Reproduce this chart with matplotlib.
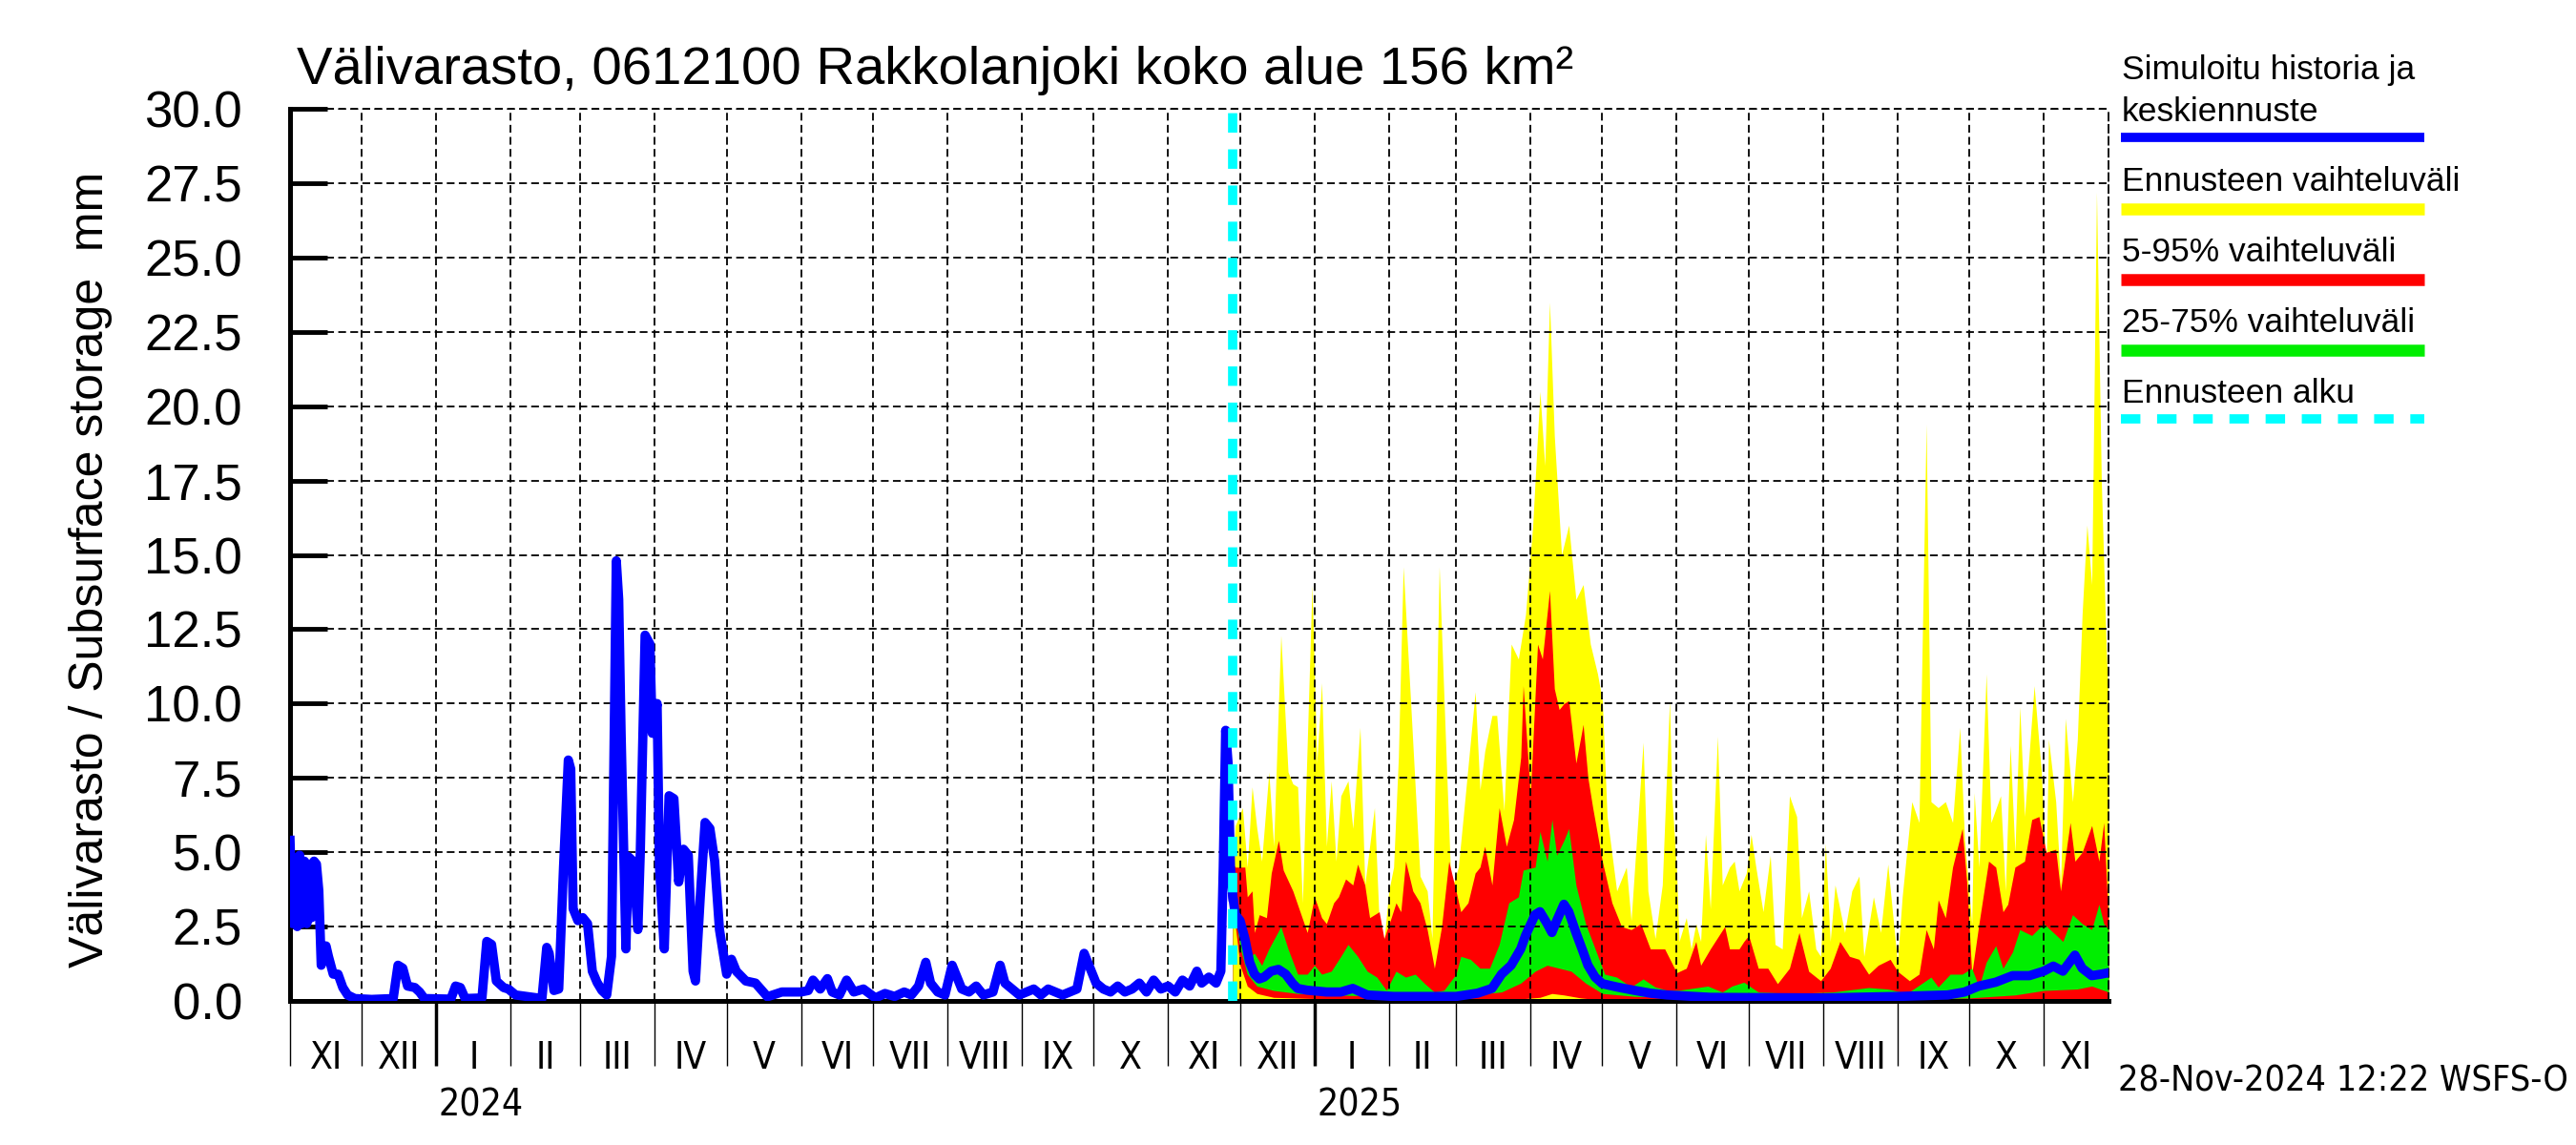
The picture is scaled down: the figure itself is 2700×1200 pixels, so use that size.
import matplotlib
matplotlib.use("Agg")
import matplotlib.pyplot as plt
import matplotlib.dates as mdates
from matplotlib import font_manager as fm
from matplotlib.lines import Line2D
from matplotlib.transforms import blended_transform_factory
import pandas as pd

plt.rcParams['font.family'] = ['Liberation Sans', 'DejaVu Sans']

# simulated history (blue)
hist_dates = ["2023-11-01", "2023-11-02", "2023-11-03", "2023-11-04", "2023-11-05", "2023-11-06",
              "2023-11-07", "2023-11-08", "2023-11-09", "2023-11-10", "2023-11-11", "2023-11-12",
              "2023-11-13", "2023-11-14", "2023-11-16", "2023-11-17", "2023-11-19", "2023-11-21",
              "2023-11-23", "2023-11-25", "2023-11-28", "2023-12-05", "2023-12-14", "2023-12-16",
              "2023-12-18", "2023-12-20", "2023-12-23", "2023-12-25", "2023-12-27", "2024-01-07",
              "2024-01-09", "2024-01-11", "2024-01-13", "2024-01-20", "2024-01-22", "2024-01-24",
              "2024-01-26", "2024-01-29", "2024-01-31", "2024-02-03", "2024-02-14", "2024-02-16",
              "2024-02-17", "2024-02-19", "2024-02-21", "2024-02-23", "2024-02-25", "2024-02-26",
              "2024-02-27", "2024-02-29", "2024-03-02", "2024-03-04", "2024-03-06", "2024-03-08",
              "2024-03-10", "2024-03-12", "2024-03-14", "2024-03-16", "2024-03-17", "2024-03-18",
              "2024-03-20", "2024-03-21", "2024-03-23", "2024-03-25", "2024-03-26", "2024-03-28",
              "2024-03-30", "2024-03-31", "2024-04-02", "2024-04-03", "2024-04-05", "2024-04-07",
              "2024-04-09", "2024-04-11", "2024-04-13", "2024-04-15", "2024-04-17", "2024-04-18",
              "2024-04-20", "2024-04-22", "2024-04-24", "2024-04-26", "2024-04-28", "2024-05-01",
              "2024-05-03", "2024-05-05", "2024-05-09", "2024-05-13", "2024-05-18", "2024-05-24",
              "2024-06-01", "2024-06-04", "2024-06-06", "2024-06-09", "2024-06-12", "2024-06-14",
              "2024-06-17", "2024-06-20", "2024-06-23", "2024-06-27", "2024-07-02", "2024-07-06",
              "2024-07-10", "2024-07-14", "2024-07-17", "2024-07-20", "2024-07-23", "2024-07-25",
              "2024-07-28", "2024-07-31", "2024-08-03", "2024-08-05", "2024-08-07", "2024-08-10",
              "2024-08-13", "2024-08-16", "2024-08-20", "2024-08-23", "2024-08-25", "2024-08-28",
              "2024-08-31", "2024-09-03", "2024-09-06", "2024-09-09", "2024-09-12", "2024-09-15",
              "2024-09-18", "2024-09-21", "2024-09-24", "2024-09-27", "2024-09-29", "2024-10-02",
              "2024-10-05", "2024-10-08", "2024-10-11", "2024-10-14", "2024-10-17", "2024-10-20",
              "2024-10-23", "2024-10-26", "2024-10-29", "2024-11-01", "2024-11-04", "2024-11-07",
              "2024-11-10", "2024-11-13", "2024-11-15", "2024-11-18", "2024-11-21", "2024-11-23",
              "2024-11-24", "2024-11-25", "2024-11-26", "2024-11-27", "2024-11-28"]
hist_vals = [5.4, 2.6, 4.8, 2.5, 4.9, 2.6,
             4.7, 2.6, 4.6, 2.8, 4.7, 4.6,
             3.7, 1.2, 1.85, 1.5, 0.9, 0.9,
             0.45, 0.2, 0.08, 0.05, 0.08, 1.2,
             1.1, 0.5, 0.45, 0.3, 0.08, 0.06,
             0.5, 0.45, 0.08, 0.1, 2.0, 1.9,
             0.67, 0.45, 0.4, 0.2, 0.08, 1.8,
             1.6, 0.35, 0.4, 4.5, 8.1, 7.8,
             3.1, 2.7, 2.8, 2.6, 1.0, 0.62,
             0.35, 0.2, 1.5, 14.8, 13.5, 9.0,
             1.75, 4.85, 4.7, 2.4, 5.0, 12.3,
             12.0, 9.0, 10.0, 4.5, 1.75, 6.9,
             6.8, 4.0, 5.1, 4.9, 1.0, 0.67,
             3.5, 6.0, 5.8, 4.7, 2.4, 0.9,
             1.4, 1.0, 0.67, 0.6, 0.14, 0.3,
             0.3, 0.35, 0.7, 0.4, 0.75, 0.3,
             0.2, 0.7, 0.3, 0.4, 0.1, 0.25,
             0.15, 0.3, 0.2, 0.5, 1.3, 0.6,
             0.3, 0.2, 1.2, 0.8, 0.4, 0.3,
             0.5, 0.2, 0.3, 1.2, 0.6, 0.4,
             0.2, 0.3, 0.4, 0.2, 0.4, 0.3,
             0.2, 0.3, 0.4, 1.6, 1.2, 0.6,
             0.4, 0.3, 0.5, 0.3, 0.4, 0.6,
             0.3, 0.7, 0.4, 0.5, 0.3, 0.7,
             0.5, 1.0, 0.6, 0.8, 0.6, 1.0,
             4.5, 9.1, 8.0, 4.5, 3.5]

# forecast median (blue)
med_dates = ["2024-11-28", "2024-11-29", "2024-12-01", "2024-12-03", "2024-12-05", "2024-12-07",
             "2024-12-09", "2024-12-11", "2024-12-14", "2024-12-17", "2024-12-20", "2024-12-23",
             "2024-12-25", "2024-12-29", "2025-01-06", "2025-01-12", "2025-01-17", "2025-01-23",
             "2025-02-03", "2025-03-01", "2025-03-10", "2025-03-16", "2025-03-20", "2025-03-24",
             "2025-03-28", "2025-03-30", "2025-04-03", "2025-04-05", "2025-04-08", "2025-04-10",
             "2025-04-12", "2025-04-15", "2025-04-17", "2025-04-20", "2025-04-23", "2025-04-25",
             "2025-04-28", "2025-05-01", "2025-05-07", "2025-05-14", "2025-05-21", "2025-05-28",
             "2025-06-15", "2025-08-01", "2025-09-01", "2025-09-22", "2025-09-29", "2025-10-05",
             "2025-10-12", "2025-10-19", "2025-10-26", "2025-11-01", "2025-11-05", "2025-11-09",
             "2025-11-14", "2025-11-17", "2025-11-21", "2025-11-25", "2025-11-28"]
med_vals = [3.5, 2.9, 2.7, 2.1, 1.3, 0.9,
            0.74, 0.8, 1.0, 1.06, 0.9, 0.58,
            0.42, 0.36, 0.3, 0.3, 0.42, 0.2,
            0.15, 0.15, 0.26, 0.42, 0.9, 1.2,
            1.75, 2.2, 2.9, 3.0, 2.6, 2.3,
            2.7, 3.25, 3.0, 2.3, 1.65, 1.2,
            0.8, 0.58, 0.47, 0.36, 0.26, 0.2,
            0.12, 0.1, 0.15, 0.2, 0.3, 0.5,
            0.63, 0.85, 0.85, 1.0, 1.17, 1.0,
            1.54, 1.1, 0.85, 0.9, 0.95]

# forecast range max (yellow)
max_dates = ["2024-11-28", "2024-11-29", "2024-12-02", "2024-12-04", "2024-12-06", "2024-12-08",
             "2024-12-10", "2024-12-13", "2024-12-15", "2024-12-18", "2024-12-21", "2024-12-23",
             "2024-12-25", "2024-12-27", "2024-12-31", "2025-01-02", "2025-01-04", "2025-01-06",
             "2025-01-08", "2025-01-10", "2025-01-12", "2025-01-15", "2025-01-17", "2025-01-20",
             "2025-01-22", "2025-01-26", "2025-01-28", "2025-01-30", "2025-02-01", "2025-02-03",
             "2025-02-05", "2025-02-07", "2025-02-10", "2025-02-14", "2025-02-17", "2025-02-19",
             "2025-02-22", "2025-02-25", "2025-02-27", "2025-03-02", "2025-03-05", "2025-03-09",
             "2025-03-11", "2025-03-13", "2025-03-16", "2025-03-18", "2025-03-21", "2025-03-24",
             "2025-03-27", "2025-03-30", "2025-04-02", "2025-04-05", "2025-04-07", "2025-04-09",
             "2025-04-11", "2025-04-14", "2025-04-17", "2025-04-20", "2025-04-23", "2025-04-26",
             "2025-04-29", "2025-05-01", "2025-05-03", "2025-05-07", "2025-05-11", "2025-05-13",
             "2025-05-18", "2025-05-20", "2025-05-23", "2025-05-26", "2025-05-29", "2025-05-30",
             "2025-06-01", "2025-06-02", "2025-06-05", "2025-06-07", "2025-06-09", "2025-06-11",
             "2025-06-13", "2025-06-15", "2025-06-18", "2025-06-20", "2025-06-23", "2025-06-25",
             "2025-06-27", "2025-06-30", "2025-07-02", "2025-07-04", "2025-07-07", "2025-07-10",
             "2025-07-12", "2025-07-15", "2025-07-18", "2025-07-21", "2025-07-23", "2025-07-26",
             "2025-07-29", "2025-07-31", "2025-08-02", "2025-08-04", "2025-08-06", "2025-08-10",
             "2025-08-13", "2025-08-16", "2025-08-18", "2025-08-22", "2025-08-25", "2025-08-28",
             "2025-09-01", "2025-09-03", "2025-09-07", "2025-09-10", "2025-09-13", "2025-09-15",
             "2025-09-18", "2025-09-21", "2025-09-24", "2025-09-27", "2025-09-29", "2025-10-02",
             "2025-10-03", "2025-10-05", "2025-10-08", "2025-10-10", "2025-10-14", "2025-10-16",
             "2025-10-18", "2025-10-20", "2025-10-22", "2025-10-24", "2025-10-28", "2025-10-31",
             "2025-11-02", "2025-11-03", "2025-11-06", "2025-11-08", "2025-11-10", "2025-11-13",
             "2025-11-15", "2025-11-17", "2025-11-19", "2025-11-21", "2025-11-23", "2025-11-25",
             "2025-11-27", "2025-11-28"]
max_vals = [4.6, 5.9, 6.5, 4.5, 7.2, 5.8,
            4.7, 7.7, 5.2, 12.3, 7.7, 7.3,
            7.2, 3.3, 14.0, 8.0, 10.7, 5.2,
            7.4, 4.7, 6.9, 7.4, 5.8, 9.2,
            3.9, 6.5, 2.6, 2.0, 3.7, 4.5,
            8.2, 14.6, 10.2, 4.2, 3.7, 2.1,
            14.6, 8.0, 3.7, 4.5, 7.0, 10.4,
            7.1, 8.4, 9.6, 9.6, 6.4, 12.0,
            11.5, 13.0, 16.0, 20.5, 18.0, 23.5,
            19.0, 15.0, 16.0, 13.5, 14.0, 12.0,
            11.0, 10.1, 6.2, 3.7, 4.5, 2.7,
            8.7, 3.7, 2.1, 3.9, 10.1, 6.9,
            4.3, 2.0, 2.8, 1.75, 2.6, 2.0,
            5.6, 3.1, 8.9, 3.9, 4.5, 4.7,
            3.7, 4.3, 5.6, 4.5, 3.0, 4.9,
            1.9, 1.75, 6.9, 6.2, 2.8, 3.7,
            1.75, 1.5, 5.3, 2.0, 3.9, 2.3,
            3.7, 4.2, 1.5, 3.5, 2.3, 4.6,
            1.3, 3.5, 6.7, 6.0, 19.4, 6.7,
            6.5, 6.7, 6.0, 9.2, 5.4, 2.6,
            7.0, 4.5, 11.0, 6.0, 6.9, 3.7,
            8.6, 5.0, 9.9, 6.2, 10.6, 7.7,
            4.2, 8.8, 6.7, 3.9, 9.5, 6.7,
            8.8, 13.0, 16.0, 14.0, 27.2, 17.5,
            12.0, 10.0]

# 95 % (red top)
p95_dates = ["2024-11-28", "2024-11-29", "2024-12-03", "2024-12-04", "2024-12-06", "2024-12-07",
             "2024-12-09", "2024-12-12", "2024-12-14", "2024-12-17", "2024-12-19", "2024-12-23",
             "2024-12-26", "2024-12-29", "2025-01-01", "2025-01-04", "2025-01-06", "2025-01-09",
             "2025-01-11", "2025-01-14", "2025-01-17", "2025-01-19", "2025-01-22", "2025-01-24",
             "2025-01-28", "2025-01-30", "2025-02-02", "2025-02-04", "2025-02-06", "2025-02-08",
             "2025-02-11", "2025-02-14", "2025-02-17", "2025-02-20", "2025-02-23", "2025-02-26",
             "2025-03-01", "2025-03-03", "2025-03-06", "2025-03-09", "2025-03-11", "2025-03-13",
             "2025-03-16", "2025-03-19", "2025-03-22", "2025-03-25", "2025-03-28", "2025-03-29",
             "2025-04-01", "2025-04-04", "2025-04-06", "2025-04-09", "2025-04-11", "2025-04-13",
             "2025-04-15", "2025-04-17", "2025-04-20", "2025-04-23", "2025-04-25", "2025-04-27",
             "2025-05-01", "2025-05-05", "2025-05-09", "2025-05-13", "2025-05-17", "2025-05-21",
             "2025-05-27", "2025-06-01", "2025-06-05", "2025-06-09", "2025-06-11", "2025-06-15",
             "2025-06-21", "2025-06-23", "2025-06-27", "2025-06-29", "2025-07-01", "2025-07-05",
             "2025-07-09", "2025-07-13", "2025-07-18", "2025-07-22", "2025-07-26", "2025-07-31",
             "2025-08-04", "2025-08-08", "2025-08-12", "2025-08-16", "2025-08-20", "2025-08-24",
             "2025-08-29", "2025-09-01", "2025-09-06", "2025-09-10", "2025-09-13", "2025-09-16",
             "2025-09-18", "2025-09-21", "2025-09-24", "2025-09-28", "2025-09-30", "2025-10-02",
             "2025-10-05", "2025-10-09", "2025-10-12", "2025-10-15", "2025-10-17", "2025-10-20",
             "2025-10-24", "2025-10-27", "2025-10-30", "2025-11-02", "2025-11-06", "2025-11-08",
             "2025-11-12", "2025-11-14", "2025-11-17", "2025-11-21", "2025-11-24", "2025-11-26",
             "2025-11-28"]
p95_vals = [4.6, 4.5, 4.5, 3.5, 3.7, 2.3,
            2.9, 2.8, 4.3, 5.4, 4.4, 3.7,
            3.0, 2.3, 3.5, 2.8, 2.6, 3.3,
            3.5, 4.1, 3.9, 4.6, 3.9, 2.8,
            3.0, 2.1, 2.8, 3.3, 3.0, 4.7,
            3.7, 3.3, 2.4, 1.1, 2.5, 4.7,
            3.7, 3.0, 3.3, 4.3, 4.5, 5.2,
            3.9, 6.5, 5.2, 6.1, 8.2, 10.6,
            6.9, 12.0, 11.5, 13.8, 10.5, 9.8,
            10.0, 10.1, 8.0, 9.3, 7.5, 6.5,
            4.7, 3.3, 2.5, 2.4, 2.6, 1.75,
            1.75, 0.95, 1.1, 2.0, 1.2, 1.75,
            2.5, 1.75, 1.75, 2.0, 2.2, 1.1,
            1.1, 0.58, 1.1, 2.3, 1.0, 0.68,
            1.1, 2.0, 1.5, 1.4, 0.9, 1.2,
            1.4, 1.0, 0.68, 0.9, 2.4, 1.75,
            3.4, 2.8, 4.5, 5.8, 3.9, 0.9,
            2.6, 4.7, 4.5, 3.0, 3.25, 4.5,
            4.7, 6.1, 6.2, 5.0, 5.1, 3.7,
            6.0, 4.7, 5.0, 5.9, 4.7, 6.0,
            2.6]

# 75 % (green top)
p75_dates = ["2024-11-28", "2024-12-02", "2024-12-05", "2024-12-07", "2024-12-10", "2024-12-13",
             "2024-12-18", "2024-12-21", "2024-12-25", "2024-12-29", "2025-01-01", "2025-01-04",
             "2025-01-08", "2025-01-12", "2025-01-15", "2025-01-19", "2025-01-23", "2025-01-27",
             "2025-01-31", "2025-02-04", "2025-02-08", "2025-02-12", "2025-02-16", "2025-02-20",
             "2025-02-24", "2025-03-01", "2025-03-03", "2025-03-07", "2025-03-11", "2025-03-15",
             "2025-03-19", "2025-03-23", "2025-03-27", "2025-03-29", "2025-04-03", "2025-04-05",
             "2025-04-08", "2025-04-10", "2025-04-12", "2025-04-15", "2025-04-17", "2025-04-20",
             "2025-04-24", "2025-04-28", "2025-05-02", "2025-05-07", "2025-05-13", "2025-05-18",
             "2025-05-23", "2025-05-28", "2025-06-02", "2025-06-14", "2025-06-20", "2025-06-24",
             "2025-06-29", "2025-07-05", "2025-07-20", "2025-08-05", "2025-08-20", "2025-08-28",
             "2025-09-05", "2025-09-15", "2025-09-18", "2025-09-23", "2025-09-28", "2025-10-02",
             "2025-10-05", "2025-10-08", "2025-10-12", "2025-10-15", "2025-10-19", "2025-10-22",
             "2025-10-27", "2025-11-01", "2025-11-05", "2025-11-09", "2025-11-13", "2025-11-17",
             "2025-11-21", "2025-11-24", "2025-11-26", "2025-11-28"]
p75_vals = [3.8, 2.6, 1.5, 1.6, 1.2, 1.75,
            2.5, 1.75, 0.9, 0.9, 1.2, 0.9,
            1.0, 1.5, 1.9, 1.5, 1.0, 0.8,
            0.36, 1.0, 0.8, 0.9, 0.58, 0.3,
            0.36, 0.9, 1.5, 1.4, 1.1, 1.1,
            1.9, 3.3, 3.5, 4.4, 4.5, 5.7,
            4.7, 6.1, 4.9, 5.4, 5.8, 3.9,
            2.6, 1.75, 0.9, 0.8, 0.47, 0.74,
            0.47, 0.36, 0.36, 0.5, 0.3, 0.5,
            0.63, 0.3, 0.25, 0.3, 0.45, 0.4,
            0.25, 0.8, 0.47, 0.9, 0.9, 1.1,
            0.47, 1.3, 1.86, 1.1, 1.65, 2.4,
            2.2, 2.6, 2.3, 2.0, 2.9, 2.6,
            2.4, 3.25, 2.6, 2.4]

# 25 % (green bottom)
p25_dates = ["2024-11-28", "2024-12-01", "2024-12-04", "2024-12-08", "2024-12-15", "2024-12-25",
             "2025-01-10", "2025-02-01", "2025-03-01", "2025-03-20", "2025-03-28", "2025-04-03",
             "2025-04-08", "2025-04-13", "2025-04-18", "2025-04-24", "2025-05-01", "2025-05-15",
             "2025-06-15", "2025-09-01", "2025-10-01", "2025-10-20", "2025-11-01", "2025-11-15",
             "2025-11-21", "2025-11-28"]
p25_vals = [3.4, 1.8, 0.9, 0.5, 0.35, 0.25,
            0.2, 0.15, 0.15, 0.3, 0.6, 1.0,
            1.2, 1.1, 1.0, 0.6, 0.25, 0.15,
            0.1, 0.05, 0.1, 0.2, 0.35, 0.4,
            0.5, 0.3]

# 5 % (red bottom)
p05_dates = ["2024-11-28", "2024-12-01", "2024-12-04", "2024-12-08", "2024-12-15", "2025-01-01",
             "2025-03-25", "2025-04-05", "2025-04-10", "2025-04-15", "2025-04-22", "2025-05-01",
             "2025-10-01", "2025-11-01", "2025-11-28"]
p05_vals = [3.2, 1.2, 0.5, 0.25, 0.12, 0.08,
            0.05, 0.12, 0.25, 0.2, 0.1, 0.03,
            0.02, 0.05, 0.05]

months = ["XI", "XII", "I", "II", "III", "IV", "V", "VI", "VII", "VIII", "IX", "X",
          "XI", "XII", "I", "II", "III", "IV", "V", "VI", "VII", "VIII", "IX", "X", "XI"]
years = ["2024", "2025"]

forecast_start = pd.Timestamp("2024-11-28")
x0 = pd.Timestamp("2023-11-01")
x1 = pd.Timestamp("2025-11-28")

# narrow face for the date axis texts, if one is installed
names = {f.name for f in fm.fontManager.ttflist}
if "Liberation Sans Narrow" in names:
    narrow = dict(family=["Liberation Sans Narrow", "DejaVu Sans"])
    msize, tsize = 30, 30
else:
    cond = [f for f in fm.fontManager.ttflist if f.name == "DejaVu Sans" and f.stretch == "condensed"]
    if cond:
        narrow = dict(family=["DejaVu Sans"], stretch="condensed")
        msize, tsize = 28, 27
    else:
        narrow = dict(family=["Liberation Sans", "DejaVu Sans"])
        msize, tsize = 27, 26

W, H = 2700, 1200
fig = plt.figure(figsize=(27, 12), dpi=100)
ax = fig.add_axes([304 / W, 1 - 1049 / H, (2210 - 304) / W, (1049 - 114) / H])

td = lambda l: pd.to_datetime(l)

ax.fill_between(td(max_dates), 0, max_vals, color="#ffff00", lw=0, zorder=1)
ax.fill_between(td(p95_dates), 0, p95_vals, color="#ff0000", lw=0, zorder=1.1)
ax.fill_between(td(p75_dates), 0, p75_vals, color="#00ee00", lw=0, zorder=1.2)
ax.fill_between(td(p25_dates), 0, p25_vals, color="#ff0000", lw=0, zorder=1.3)
ax.fill_between(td(p05_dates), 0, p05_vals, color="#ffff00", lw=0, zorder=1.4)

ax.plot(td(hist_dates), hist_vals, color="#0000ff", lw=7, zorder=3)
ax.plot(td(med_dates), med_vals, color="#0000ff", lw=7, zorder=3)
ax.axvline(forecast_start, color="#00ffff", lw=7, ls=(0, (2.1, 1.8)), zorder=4)

ax.set_xlim(x0, x1)
ax.set_ylim(0, 30)

ax.set_yticks([i * 2.5 for i in range(13)])
ax.set_yticklabels(["%.1f" % (i * 2.5) for i in range(13)])
ax.tick_params(axis="y", direction="in", length=28, width=3.5, labelsize=38, pad=36)

ax.xaxis.set_major_locator(mdates.YearLocator())
ax.xaxis.set_minor_locator(mdates.MonthLocator())
ax.xaxis.set_major_formatter(plt.NullFormatter())
ax.tick_params(axis="x", which="major", direction="out", length=49, width=2.5, labelbottom=False)
ax.tick_params(axis="x", which="minor", direction="out", length=49, width=1.0)

ax.set_axisbelow(False)
gstyle = dict(color="black", lw=1.3, ls=(0, (4.5, 2.5)))
ax.grid(axis="y", **gstyle)
ax.grid(axis="x", which="both", **gstyle)
ax.axhline(30, clip_on=False, zorder=2.6, **gstyle)

ax.spines["top"].set_visible(False)
ax.spines["right"].set_linestyle((0, (4.5, 2.5)))
ax.spines["right"].set_linewidth(1.3)
ax.spines["left"].set_linewidth(3.6)
ax.spines["bottom"].set_linewidth(3.6)

# month and year labels under the axis
tr = blended_transform_factory(ax.transData, fig.transFigure)
mstarts = pd.date_range("2023-11-01", "2025-11-01", freq="MS")
for i, m in enumerate(months):
    a = mstarts[i]
    b = mstarts[i + 1] if i + 1 < len(mstarts) else x1
    mid = a + (b - a) / 2
    ax.text(mid, 1 - 1109 / H, m, transform=tr, ha="center", va="center", fontsize=msize, **narrow)
for y in years:
    ax.text(pd.Timestamp(y + "-01-02"), 1 - 1159 / H, y, transform=tr, ha="left", va="center",
            fontsize=msize, **narrow)

fig.text(2692 / W, 1 - 1134 / H, "28-Nov-2024 12:22 WSFS-O", ha="right", va="center",
         fontsize=tsize, **narrow)

fig.text(311 / W, 1 - 88 / H, "Välivarasto, 0612100 Rakkolanjoki koko alue 156 km²",
         ha="left", va="baseline", fontsize=40.5)
fig.text(95 / W, 1 - 597 / H, "Välivarasto / Subsurface storage  mm", rotation=90,
         ha="center", va="center", fontsize=36)

# legend drawn by hand on the right
leg = [(["Simuloitu historia ja", "keskiennuste"], "#0000ff", 83, 144, "-"),
       (["Ennusteen vaihteluväli"], "#ffff00", 200, 219, "-"),
       (["5-95% vaihteluväli"], "#ff0000", 274, 293, "-"),
       (["25-75% vaihteluväli"], "#00ee00", 348, 367, "-"),
       (["Ennusteen alku"], "#00ffff", 422, 439, (0, (2.1, 1.8)))]
for lines, col, ty, ly, ls in leg:
    for k, t in enumerate(lines):
        fig.text(2224 / W, 1 - (ty + 44 * k) / H, t, ha="left", va="baseline", fontsize=25.5)
    fig.add_artist(Line2D([2223 / W, 2541 / W], [1 - ly / H, 1 - ly / H], color=col,
                          lw=7 if col in ("#0000ff", "#00ffff") else 9,
                          ls=ls, solid_capstyle="butt", dash_capstyle="butt"))

fig.savefig("out.png", dpi=100)
